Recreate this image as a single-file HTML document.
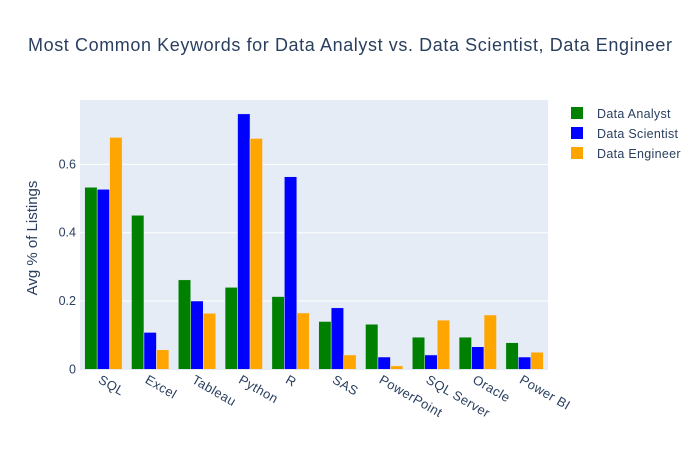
<!DOCTYPE html>
<html><head><meta charset="utf-8"><style>
body{margin:0;background:#fff;font-family:"Liberation Sans",Arial,sans-serif;}
svg text{font-family:"Liberation Sans",Arial,sans-serif;fill:#2a3f5f;}
</style></head><body>
<svg id="chart" width="700" height="450">
<rect width="700" height="450" fill="#fff"/>
<text x="350" y="51" text-anchor="middle" font-size="18" textLength="644" lengthAdjust="spacing">Most Common Keywords for Data Analyst vs. Data Scientist, Data Engineer</text>
<rect x="80" y="100" width="468" height="270" fill="#e5ecf6"/>
<g id="grid"></g><g id="bars"></g><g id="xlabels"></g>
<text transform="translate(37,238) rotate(-90)" text-anchor="middle" font-size="15">Avg % of Listings</text>
<g id="legend"></g>
</svg>
<script>
const categories=["SQL","Excel","Tableau","Python","R","SAS","PowerPoint","SQL Server","Oracle","Power BI"];
const seriesNames=["Data Analyst","Data Scientist","Data Engineer"];
const analyst=[0.533,0.451,0.262,0.24,0.213,0.14,0.132,0.094,0.094,0.078];
const scientist=[0.527,0.108,0.2,0.748,0.564,0.18,0.036,0.042,0.066,0.036];
const engineer=[0.679,0.057,0.164,0.676,0.165,0.042,0.01,0.144,0.159,0.05];
const yTicks=[0,0.2,0.4,0.6];
const yTickLabels=["0","0.2","0.4","0.6"];
const colors=["#008000","#0000ff","#ffa500"];
const NS="http://www.w3.org/2000/svg";
const L=80,R=548,B=369.3,T=100,yMax=(B-T)/341.5;
const y=v=>B-v/yMax*(B-T);
const band=(R-L)/categories.length;
function mk(tag,attrs,parent){const e=document.createElementNS(NS,tag);for(const k in attrs)e.setAttribute(k,attrs[k]);parent.appendChild(e);return e;}
const grid=document.getElementById('grid');
yTicks.forEach((t,i)=>{
 if(t>0){const g=mk('line',{x1:L,x2:R,y1:y(t),y2:y(t),stroke:'#fff','stroke-width':1},grid);
 
 }
 const tx=mk('text',{x:L-4,y:y(t)+4,'text-anchor':'end','font-size':12.5},grid);
 tx.textContent=yTickLabels[i];
 
 
});
const bars=document.getElementById('bars');
const series=[analyst,scientist,engineer];
const bw=band*0.8/3;
series.forEach((s,si)=>{
 s.forEach((v,ci)=>{
  const x=L+ci*band+band*0.1+si*bw;
  const r=mk('rect',{x:x,y:y(v),width:bw,height:B-y(v),fill:colors[si],stroke:'#e5ecf6','stroke-width':0.5},bars);
  
  
 });
});
const xl=document.getElementById('xlabels');
categories.forEach((c,ci)=>{
 const cx=L+ci*band+band/2;
 const t=mk('text',{transform:`translate(${cx-6},${B+13}) rotate(30)`,'font-size':13,'letter-spacing':0.4},xl);
 t.textContent=c;
 
 
});
const lg=document.getElementById('legend');
seriesNames.forEach((n,i)=>{
 const g=mk('g',{},lg);
 
 
 mk('rect',{x:571,y:107+i*20,width:12,height:12,fill:colors[i]},g);
 const t=mk('text',{x:597,y:118+i*20,'font-size':12.5,'letter-spacing':0.3},g);
 t.textContent=n;
});
</script>
</body></html>
